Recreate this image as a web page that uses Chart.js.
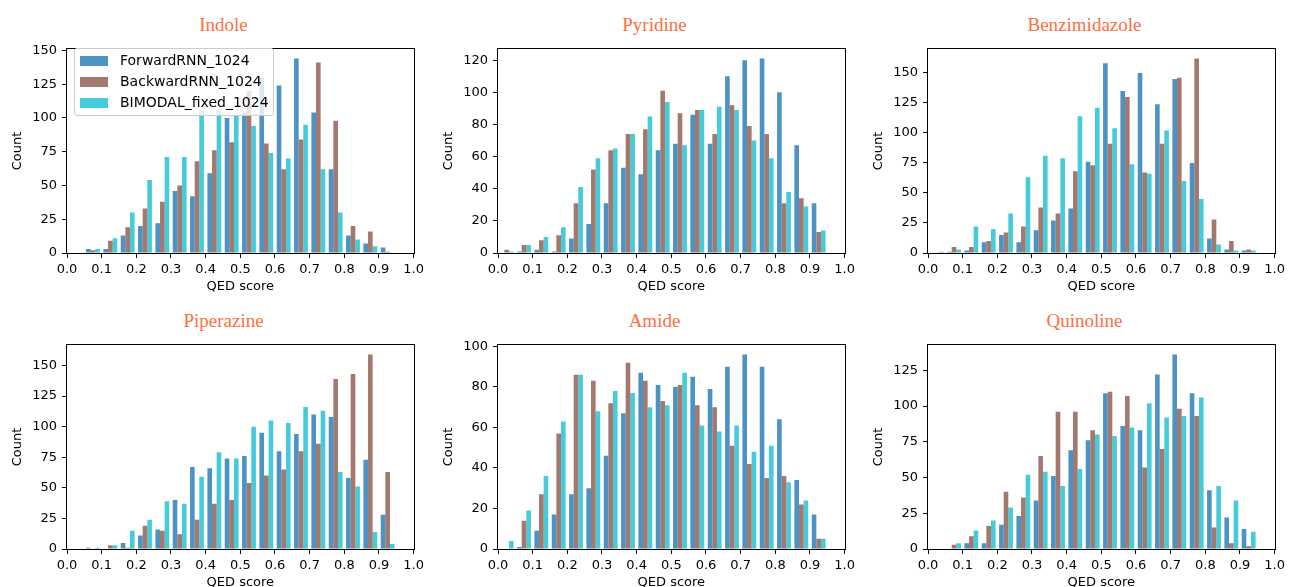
<!DOCTYPE html>
<html>
<head>
<meta charset="utf-8">
<script src="https://cdn.jsdelivr.net/npm/chart.js@4/dist/chart.umd.min.js"></script>
<style>
  html, body { margin: 0; padding: 0; background: #fff; overflow: hidden; }
  #page { position: relative; width: 1295px; height: 587px; }
  .panel { position: absolute; }
  .ttl { position: absolute; width: 240px; text-align: center; font: 19px/19px "Liberation Serif", "Times New Roman", serif; color: #ff6e40; }
  #legend { position: absolute; left: 74px; top: 48px; width: 198px; height: 66px; background: rgba(255,255,255,0.8); border: 1px solid #cccccc; border-radius: 3px; font: 14px "DejaVu Sans", sans-serif; color: #000; }
  #legend .row { position: absolute; left: 5px; height: 14px; }
  #legend .sw { position: absolute; left: 0; top: 2px; width: 28px; height: 10px; }
  #legend .lbl { position: absolute; left: 40px; top: -2px; white-space: nowrap; line-height: 17px; }
</style>
</head>
<body>
<div id="page"></div>
<script>
// histogram bins: 0.00 - 1.00, width 0.05
var binCenters = [0.025, 0.075, 0.125, 0.175, 0.225, 0.275, 0.325, 0.375, 0.425, 0.475,
                  0.525, 0.575, 0.625, 0.675, 0.725, 0.775, 0.825, 0.875, 0.925, 0.975];
var xTickLabels = ["0.0", "0.1", "0.2", "0.3", "0.4", "0.5", "0.6", "0.7", "0.8", "0.9", "1.0"];
var seriesNames = ["ForwardRNN_1024", "BackwardRNN_1024", "BIMODAL_fixed_1024"];
var seriesColors = ["rgba(31,119,180,0.8)", "rgba(140,86,75,0.8)", "rgba(23,190,207,0.8)"];

var titles = ["Indole", "Pyridine", "Benzimidazole", "Piperazine", "Amide", "Quinoline"];

var indoleFwd = [0, 3, 3, 13, 20, 22, 46, 42, 59, 100, 104, 130, 124, 144, 104, 62, 13, 7, 4, 0];
var indoleBwd = [0, 2, 9, 19, 33, 38, 50, 68, 76, 82, 120, 81, 62, 84, 141, 98, 20, 16, 1, 0];
var indoleBim = [0, 3, 11, 30, 54, 71, 71, 106, 106, 102, 94, 74, 70, 95, 62, 30, 10, 5, 0, 0];
var indoleTicks = [0, 25, 50, 75, 100, 125, 150];

var pyridineFwd = [0, 1, 2, 1, 9, 18, 31, 53, 49, 64, 68, 86, 68, 110, 120, 121, 100, 67, 31, 0];
var pyridineBwd = [2, 5, 8, 11, 31, 52, 64, 74, 77, 101, 87, 89, 74, 92, 79, 74, 31, 34, 13, 0];
var pyridineBim = [1, 5, 10, 16, 41, 59, 65, 74, 85, 94, 67, 89, 91, 89, 70, 59, 38, 29, 14, 0];
var pyridineTicks = [0, 20, 40, 60, 80, 100, 120];

var benzFwd = [0, 1, 2, 9, 15, 9, 19, 27, 37, 76, 158, 135, 150, 124, 145, 75, 12, 3, 2, 0];
var benzBwd = [0, 5, 5, 10, 17, 22, 38, 33, 68, 73, 91, 130, 67, 91, 146, 162, 28, 10, 3, 0];
var benzBim = [1, 3, 22, 20, 33, 63, 81, 79, 114, 121, 104, 74, 66, 102, 60, 45, 7, 2, 2, 0];
var benzTicks = [0, 25, 50, 75, 100, 125, 150];

var piperFwd = [0, 1, 0, 5, 11, 16, 40, 67, 66, 74, 76, 95, 80, 94, 110, 108, 58, 73, 28, 0];
var piperBwd = [0, 0, 3, 1, 19, 15, 12, 24, 37, 40, 54, 60, 65, 80, 86, 139, 143, 159, 63, 0];
var piperBim = [0, 1, 3, 15, 24, 39, 37, 59, 79, 74, 100, 105, 103, 116, 113, 63, 51, 14, 4, 0];
var piperTicks = [0, 25, 50, 75, 100, 125, 150];

var amideFwd = [0, 1, 9, 17, 27, 30, 46, 67, 87, 81, 80, 85, 79, 90, 96, 90, 64, 34, 17, 0];
var amideBwd = [0, 14, 27, 57, 86, 83, 72, 92, 83, 73, 81, 71, 70, 51, 42, 35, 36, 22, 5, 0];
var amideBim = [4, 19, 36, 63, 86, 68, 78, 77, 70, 71, 87, 61, 58, 61, 48, 51, 33, 24, 5, 0];
var amideTicks = [0, 20, 40, 60, 80, 100];

var quinFwd = [0, 0, 4, 4, 17, 23, 34, 51, 69, 76, 109, 86, 83, 122, 136, 109, 41, 22, 14, 0];
var quinBwd = [0, 3, 9, 16, 40, 36, 65, 96, 96, 83, 110, 107, 57, 70, 98, 93, 15, 4, 2, 0];
var quinBim = [0, 4, 13, 20, 29, 52, 54, 44, 56, 80, 79, 85, 102, 92, 93, 106, 44, 34, 12, 0];
var quinTicks = [0, 25, 50, 75, 100, 125];

var panels = [
    [indoleFwd, indoleBwd, indoleBim, indoleTicks],
    [pyridineFwd, pyridineBwd, pyridineBim, pyridineTicks],
    [benzFwd, benzBwd, benzBim, benzTicks],
    [piperFwd, piperBwd, piperBim, piperTicks],
    [amideFwd, amideBwd, amideBim, amideTicks],
    [quinFwd, quinBwd, quinBim, quinTicks]
];

var colLeft = [67, 498, 928];
var rowTop = [41, 337];
var plotW = 355, plotH = 212;
var yAxisW = 67, xAxisH = 45, padTop = 5, padRight = 6;

var tickFont = { family: "DejaVu Sans", size: 13 };

// matplotlib-like box around the plot area
var framePlugin = {
    id: "frame",
    afterDraw: function(chart) {
        var a = chart.chartArea;
        var ctx = chart.ctx;
        ctx.save();
        ctx.strokeStyle = "#000";
        ctx.lineWidth = 1;
        ctx.strokeRect(Math.round(a.left) - 0.5, Math.round(a.top) - 0.5,
                       Math.round(a.right - a.left) + 1, Math.round(a.bottom - a.top) + 1);
        ctx.restore();
    }
};

function toPoints(values) {
    var pts = [];
    for (var i = 0; i < values.length; i++) {
        pts.push({ x: binCenters[i], y: values[i] });
    }
    return pts;
}

var page = document.getElementById("page");

function makePanel(p) {
    var col = p % 3, row = Math.floor(p / 3);
    var plotLeft = colLeft[col], plotTop = rowTop[row];
    var series = panels[p];
    var yTicks = series[3];

    var title = document.createElement("div");
    title.className = "ttl";
    title.textContent = titles[p];
    title.style.left = (plotLeft + plotW / 2 - 21 - 120) + "px";
    title.style.top = (plotTop - 26) + "px";
    page.appendChild(title);

    var holder = document.createElement("div");
    holder.className = "panel";
    holder.style.left = (plotLeft - yAxisW) + "px";
    holder.style.top = (plotTop - padTop) + "px";
    var canvas = document.createElement("canvas");
    canvas.width = yAxisW + plotW + padRight;
    canvas.height = padTop + plotH + xAxisH;
    holder.appendChild(canvas);
    page.appendChild(holder);

    var all = series[0].concat(series[1], series[2]);
    var yMax = Math.max.apply(null, all) * 1.05;
    var datasets = [];
    for (var s = 0; s < 3; s++) {
        datasets.push({
            label: seriesNames[s],
            data: toPoints(series[s]),
            backgroundColor: seriesColors[s],
            borderWidth: 0,
            categoryPercentage: 0.8,
            barPercentage: 1.0
        });
    }
    new Chart(canvas.getContext("2d"), {
        type: "bar",
        data: { datasets: datasets },
        options: {
            responsive: false,
            animation: false,
            layout: { padding: { top: padTop, right: padRight, left: 0, bottom: 0 } },
            plugins: { legend: { display: false }, tooltip: { enabled: false } },
            scales: {
                x: {
                    type: "linear",
                    min: 0,
                    max: 1,
                    offset: false,
                    grid: { display: true, offset: false, drawOnChartArea: false, drawTicks: true, tickLength: 5, color: "#000" },
                    border: { display: false },
                    ticks: {
                        font: tickFont, color: "#000", padding: 4, maxRotation: 0, autoSkip: false,
                        callback: function(v) { return v.toFixed(1); }
                    },
                    afterBuildTicks: function(scale) {
                        scale.ticks = xTickLabels.map(function(l) { return { value: parseFloat(l) }; });
                    },
                    title: { display: true, text: "QED score", font: tickFont, color: "#000", padding: { top: 0, bottom: 4 } },
                    afterFit: function(scale) { scale.height = xAxisH; }
                },
                y: {
                    min: 0,
                    max: yMax,
                    grid: { display: true, drawOnChartArea: false, drawTicks: true, tickLength: 5, color: "#000" },
                    border: { display: false },
                    ticks: { font: tickFont, color: "#000", padding: 5 },
                    afterBuildTicks: function(scale) {
                        scale.ticks = yTicks.map(function(v) { return { value: v }; });
                    },
                    title: { display: true, text: "Count", font: tickFont, color: "#000", padding: { top: 10, bottom: 0 } },
                    afterFit: function(scale) { scale.width = yAxisW; }
                }
            }
        },
        plugins: [framePlugin]
    });
}

for (var p = 0; p < panels.length; p++) {
    makePanel(p);
}

// legend in the first panel
var legend = document.createElement("div");
legend.id = "legend";
for (var k = 0; k < seriesNames.length; k++) {
    var r = document.createElement("div");
    r.className = "row";
    r.style.top = (5 + k * 21) + "px";
    var sw = document.createElement("div");
    sw.className = "sw";
    sw.style.background = seriesColors[k];
    var lbl = document.createElement("div");
    lbl.className = "lbl";
    lbl.textContent = seriesNames[k];
    r.appendChild(sw);
    r.appendChild(lbl);
    legend.appendChild(r);
}
page.appendChild(legend);
</script>
</body>
</html>
